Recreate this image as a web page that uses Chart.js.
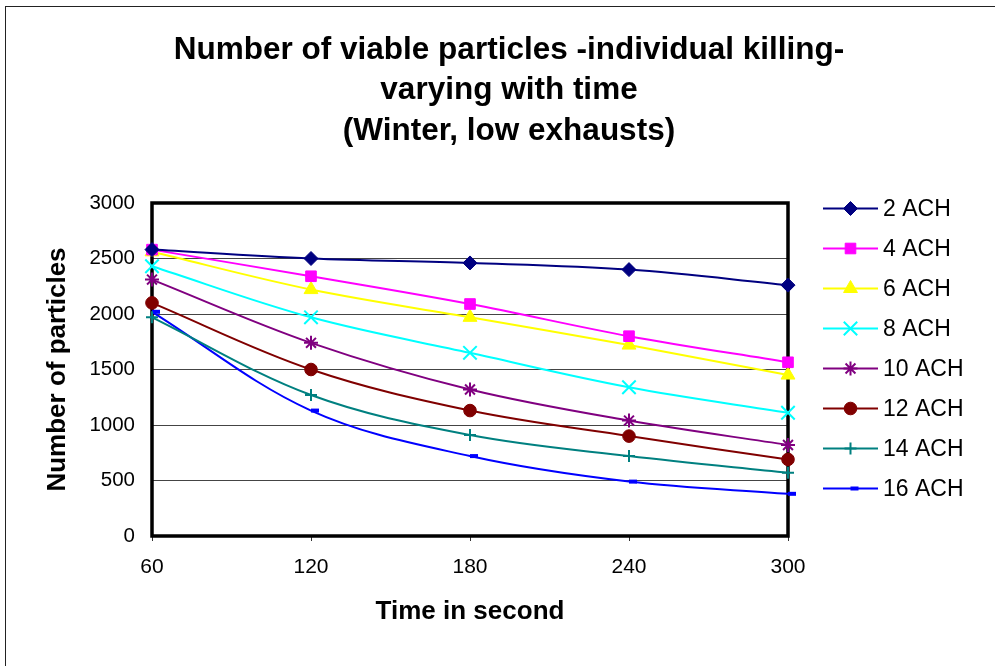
<!DOCTYPE html>
<html>
<head>
<meta charset="utf-8">
<title>Number of viable particles</title>
<script src="https://cdn.jsdelivr.net/npm/chart.js@4.4.1/dist/chart.umd.min.js"></script>
<style>
  html, body { margin: 0; padding: 0; background: #ffffff; }
  #wrap { width: 995px; height: 666px; position: relative; }
  canvas { display: block; }
</style>
</head>
<body>
<div id="wrap"><canvas id="chart" width="995" height="666"></canvas></div>
<script>
// ---- text ----
const FONT = '"Liberation Sans", Arial, Helvetica, sans-serif';
const titleLines = [
  'Number of viable particles -individual killing-',
  'varying with time',
  '(Winter, low exhausts)'
];
const xTitle = 'Time in second';
const yTitle = 'Number of particles';

// ---- data ----
const times = [60, 120, 180, 240, 300];
const seriesNames = ['2 ACH', '4 ACH', '6 ACH', '8 ACH', '10 ACH', '12 ACH', '14 ACH', '16 ACH'];
const ach2  = [2580, 2500, 2460, 2400, 2260];
const ach4  = [2580, 2340, 2090, 1800, 1565];
const ach6  = [2560, 2220, 1970, 1720, 1450];
const ach8  = [2430, 1970, 1650, 1340, 1110];
const ach10 = [2310, 1740, 1320, 1040, 820];
const ach12 = [2100, 1500, 1130, 900, 690];
const ach14 = [1970, 1270, 910, 720, 570];
const ach16 = [2020, 1130, 720, 490, 380];
const seriesValues = [ach2, ach4, ach6, ach8, ach10, ach12, ach14, ach16];

// ---- marker / line styles per series ----
const seriesColors = ['#000080', '#FF00FF', '#FFFF00', '#00FFFF', '#800080', '#800000', '#008080', '#0000FF'];
const seriesMarkers = [
  { style: 'rectRot',  radius: 7,   border: 1 },
  { style: 'rect',     radius: 7.5, border: 1 },
  { style: 'triangle', radius: 8,   border: 1 },
  { style: 'crossRot', radius: 9.5, border: 2 },
  { style: 'star',     radius: 7,   border: 2 },
  { style: 'circle',   radius: 6.3, border: 1 },
  { style: 'cross',    radius: 6,   border: 2 },
  { style: 'dash',     radius: 8,   border: 4 }
];

const datasets = seriesNames.map((name, i) => ({
  label: name,
  data: seriesValues[i],
  borderColor: seriesColors[i],
  backgroundColor: seriesColors[i],
  borderWidth: 2,
  tension: 0.35,
  fill: false,
  clip: false,
  pointStyle: seriesMarkers[i].style,
  pointRadius: seriesMarkers[i].radius,
  pointHoverRadius: seriesMarkers[i].radius,
  pointBorderWidth: seriesMarkers[i].border,
  pointBorderColor: seriesColors[i],
  pointBackgroundColor: seriesColors[i]
}));

// Background, outer frame and the three-line heading
const framePlugin = {
  id: 'frame',
  beforeDraw(chart) {
    const ctx = chart.ctx;
    ctx.save();
    ctx.fillStyle = '#ffffff';
    ctx.fillRect(0, 0, chart.width, chart.height);
    ctx.strokeStyle = '#222222';
    ctx.lineWidth = 1;
    ctx.strokeRect(5.5, 6.5, chart.width + 20, chart.height + 20);

    ctx.fillStyle = '#000000';
    ctx.font = 'bold 31.5px ' + FONT;
    ctx.textAlign = 'center';
    ctx.textBaseline = 'middle';
    const cx = 509;
    titleLines.forEach((line, i) => ctx.fillText(line, cx, 50 + i * 40.5));
    ctx.restore();
  },
  // heavy plot-area border, drawn under the series
  beforeDatasetsDraw(chart) {
    const { ctx, chartArea: a } = chart;
    ctx.save();
    ctx.strokeStyle = '#000000';
    ctx.lineWidth = 3.5;
    ctx.strokeRect(a.left, a.top, a.right - a.left, a.bottom - a.top);
    ctx.restore();
  },
  // legend: line sample with marker, then the series name
  afterDraw(chart) {
    const ctx = chart.ctx;
    ctx.save();
    ctx.font = '23px ' + FONT;
    ctx.textAlign = 'left';
    ctx.textBaseline = 'middle';
    chart.data.datasets.forEach((ds, i) => {
      const y = 208.5 + i * 40;
      ctx.strokeStyle = ds.borderColor;
      ctx.lineWidth = 2;
      ctx.beginPath();
      ctx.moveTo(823, y);
      ctx.lineTo(878, y);
      ctx.stroke();
      ctx.fillStyle = ds.pointBackgroundColor;
      ctx.strokeStyle = ds.pointBorderColor;
      ctx.lineWidth = ds.pointBorderWidth;
      Chart.helpers.drawPoint(ctx, {
        pointStyle: ds.pointStyle,
        radius: ds.pointRadius,
        rotation: 0,
        borderWidth: ds.pointBorderWidth
      }, 850.5, y);
      ctx.fillStyle = '#000000';
      ctx.fillText(ds.label, 883, y + 1);
    });
    ctx.restore();
  }
};

Chart.defaults.color = '#000000';
Chart.defaults.font.family = FONT;

new Chart(document.getElementById('chart'), {
  type: 'line',
  data: { labels: times, datasets },
  plugins: [framePlugin],
  options: {
    responsive: false,
    animation: false,
    devicePixelRatio: 1,
    layout: { padding: { left: 0, right: 207, top: 203, bottom: 0 } },
    plugins: {
      legend: { display: false },
      title: { display: false },
      tooltip: { enabled: false }
    },
    scales: {
      x: {
        type: 'category',
        offset: false,
        border: { display: false },
        grid: { drawOnChartArea: false, drawTicks: true, tickLength: 5, color: '#333333', lineWidth: 1 },
        ticks: { font: { size: 21 }, padding: 14, maxRotation: 0, autoSkip: false },
        title: { display: true, text: xTitle, font: { size: 26, weight: 'bold' }, padding: { top: 0, bottom: 39 } },
        afterFit(scale) { scale.height = 130; }
      },
      y: {
        min: 0,
        max: 3000,
        border: { display: false },
        grid: { drawTicks: false, color: '#444444', lineWidth: 1 },
        ticks: {
          stepSize: 500,
          font: { size: 20.5 },
          padding: 17,
          callback: (value) => String(value)
        },
        title: { display: true, text: yTitle, font: { size: 26, weight: 'bold' }, padding: { top: 42, bottom: 0 } },
        afterFit(scale) { scale.width = 152; }
      }
    }
  }
});
</script>
</body>
</html>
